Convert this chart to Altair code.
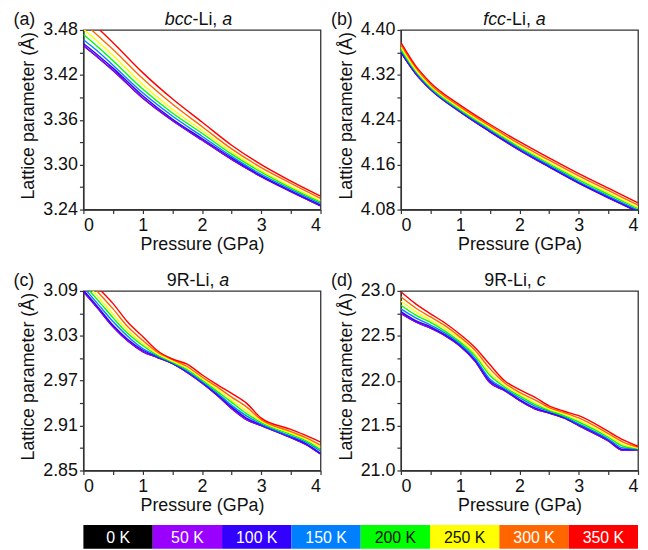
import altair as alt
import pandas as pd

FONT = "Liberation Sans"

TEMPS = ["0 K", "50 K", "100 K", "150 K", "200 K", "250 K", "300 K", "350 K"]
COLORS = ["#000000", "#9900ff", "#3300ff", "#0080ff", "#00ff00", "#ffff00", "#ff6600", "#ff0000"]
LABEL_COLORS = ["#ffffff", "#ffffff", "#ffffff", "#ffffff", "#111111", "#111111", "#ffffff", "#ffffff"]

P_AB = [0, 0.25, 0.5, 1, 1.5, 2, 2.5, 3, 3.5, 4]
P_CD = [0, 0.25, 0.5, 0.75, 1, 1.25, 1.5, 1.75, 2, 2.25, 2.5, 2.75, 3, 3.5, 3.75, 4]

BCC_A = {
    "0 K":   [3.459, 3.443, 3.426, 3.389, 3.359, 3.333, 3.307, 3.284, 3.264, 3.245],
    "50 K":  [3.459, 3.443, 3.426, 3.389, 3.359, 3.333, 3.307, 3.284, 3.264, 3.245],
    "100 K": [3.462, 3.446, 3.429, 3.392, 3.361, 3.335, 3.309, 3.285, 3.265, 3.246],
    "150 K": [3.467, 3.451, 3.433, 3.396, 3.365, 3.338, 3.311, 3.287, 3.267, 3.248],
    "200 K": [3.474, 3.457, 3.439, 3.401, 3.369, 3.342, 3.314, 3.290, 3.269, 3.250],
    "250 K": [3.481, 3.464, 3.446, 3.407, 3.374, 3.346, 3.317, 3.292, 3.271, 3.252],
    "300 K": [3.490, 3.472, 3.454, 3.415, 3.381, 3.351, 3.321, 3.296, 3.275, 3.255],
    "350 K": [3.500, 3.482, 3.463, 3.423, 3.388, 3.357, 3.326, 3.300, 3.278, 3.258],
}

FCC_A = {
    "0 K":   [4.360, 4.322, 4.294, 4.254, 4.219, 4.186, 4.156, 4.127, 4.101, 4.076],
    "50 K":  [4.360, 4.322, 4.294, 4.254, 4.219, 4.186, 4.156, 4.127, 4.101, 4.076],
    "100 K": [4.361, 4.323, 4.295, 4.255, 4.220, 4.187, 4.157, 4.128, 4.102, 4.077],
    "150 K": [4.364, 4.325, 4.296, 4.256, 4.222, 4.189, 4.159, 4.130, 4.104, 4.079],
    "200 K": [4.366, 4.327, 4.298, 4.258, 4.224, 4.191, 4.162, 4.133, 4.107, 4.082],
    "250 K": [4.370, 4.329, 4.300, 4.260, 4.226, 4.194, 4.164, 4.136, 4.110, 4.084],
    "300 K": [4.374, 4.333, 4.303, 4.263, 4.229, 4.197, 4.168, 4.140, 4.114, 4.088],
    "350 K": [4.378, 4.336, 4.306, 4.266, 4.232, 4.201, 4.172, 4.144, 4.118, 4.092],
}

R9_A = {
    "0 K":   [3.089, 3.066, 3.042, 3.023, 3.009, 3.001, 2.993, 2.981, 2.967, 2.951, 2.933, 2.918, 2.910, 2.894, 2.885, 2.872],
    "50 K":  [3.089, 3.066, 3.042, 3.023, 3.009, 3.001, 2.993, 2.981, 2.967, 2.951, 2.933, 2.918, 2.910, 2.894, 2.885, 2.872],
    "100 K": [3.091, 3.068, 3.044, 3.025, 3.011, 3.002, 2.993, 2.982, 2.968, 2.952, 2.935, 2.920, 2.911, 2.895, 2.886, 2.873],
    "150 K": [3.095, 3.072, 3.049, 3.029, 3.013, 3.003, 2.994, 2.983, 2.969, 2.954, 2.937, 2.923, 2.912, 2.896, 2.888, 2.876],
    "200 K": [3.099, 3.077, 3.054, 3.033, 3.017, 3.004, 2.995, 2.985, 2.971, 2.956, 2.941, 2.926, 2.914, 2.898, 2.890, 2.878],
    "250 K": [3.104, 3.082, 3.059, 3.037, 3.020, 3.006, 2.996, 2.987, 2.973, 2.959, 2.944, 2.930, 2.916, 2.900, 2.892, 2.881],
    "300 K": [3.109, 3.088, 3.066, 3.042, 3.024, 3.008, 2.998, 2.989, 2.975, 2.962, 2.948, 2.935, 2.918, 2.902, 2.894, 2.884],
    "350 K": [3.115, 3.094, 3.073, 3.048, 3.029, 3.010, 2.999, 2.992, 2.978, 2.965, 2.953, 2.940, 2.920, 2.905, 2.897, 2.888],
}

R9_C = {
    "0 K":   [22.75, 22.655, 22.585, 22.50, 22.385, 22.22, 21.98, 21.89, 21.78, 21.69, 21.64, 21.585, 21.50, 21.33, 21.225, 21.23],
    "50 K":  [22.75, 22.655, 22.585, 22.50, 22.385, 22.22, 21.98, 21.89, 21.78, 21.69, 21.64, 21.585, 21.50, 21.33, 21.225, 21.23],
    "100 K": [22.77, 22.67, 22.60, 22.51, 22.395, 22.23, 22.00, 21.90, 21.79, 21.70, 21.645, 21.59, 21.51, 21.34, 21.235, 21.235],
    "150 K": [22.80, 22.70, 22.62, 22.53, 22.41, 22.25, 22.02, 21.91, 21.81, 21.72, 21.66, 21.60, 21.52, 21.35, 21.25, 21.24],
    "200 K": [22.84, 22.73, 22.65, 22.55, 22.43, 22.28, 22.06, 21.93, 21.83, 21.74, 21.67, 21.61, 21.54, 21.37, 21.27, 21.245],
    "250 K": [22.885, 22.77, 22.675, 22.58, 22.46, 22.30, 22.09, 21.95, 21.85, 21.76, 21.685, 21.63, 21.56, 21.39, 21.29, 21.25],
    "300 K": [22.935, 22.81, 22.71, 22.61, 22.485, 22.34, 22.135, 21.975, 21.87, 21.79, 21.70, 21.645, 21.585, 21.41, 21.315, 21.26],
    "350 K": [22.99, 22.855, 22.745, 22.64, 22.515, 22.37, 22.18, 22.00, 21.90, 21.82, 21.72, 21.66, 21.61, 21.435, 21.34, 21.27],
}

X_TICKS = [0, 0.5, 1, 1.5, 2, 2.5, 3, 3.5, 4]
Y_TICKS_A = [3.24, 3.27, 3.30, 3.33, 3.36, 3.39, 3.42, 3.45, 3.48]
Y_TICKS_B = [4.08, 4.12, 4.16, 4.20, 4.24, 4.28, 4.32, 4.36, 4.40]
Y_TICKS_C = [2.85, 2.88, 2.91, 2.94, 2.97, 3.00, 3.03, 3.06, 3.09]
Y_TICKS_D = [21.0, 21.25, 21.5, 21.75, 22.0, 22.25, 22.5, 22.75, 23.0]

W, H = 239, 181
GAP = 81


def long_df(P, series):
    rows = []
    for t in TEMPS:
        for p, v in zip(P, series[t]):
            rows.append({"P": p, "val": v, "T": t})
    return pd.DataFrame(rows)


def text_layer(s, x, italic=False):
    return alt.Chart(pd.DataFrame({"s": [s]})).mark_text(
        align="left", baseline="alphabetic", font=FONT, fontSize=18,
        fontStyle="italic" if italic else "normal", color="#111111"
    ).encode(text="s:N", x=alt.value(x), y=alt.value(-5))


def panel(P, series, yticks, base, step, fmt, tag, parts):
    df = long_df(P, series)
    label_expr = f"(round(datum.value*100) - {base}) % {step} == 0 ? format(datum.value, '{fmt}') : ''"
    lines = alt.Chart(df).mark_line(clip=True, strokeWidth=1.4, interpolate="monotone").encode(
        x=alt.X("P:Q", scale=alt.Scale(domain=[0, 4], nice=False),
                axis=alt.Axis(values=X_TICKS, title="Pressure (GPa)",
                              labelExpr="datum.value % 1 == 0 ? format(datum.value, 'd') : ''",
                              titleY=40, titleBaseline="alphabetic")),
        y=alt.Y("val:Q", scale=alt.Scale(domain=[yticks[0], yticks[-1]], nice=False, zero=False),
                axis=alt.Axis(values=yticks, title="Lattice parameter (Å)", labelExpr=label_expr,
                              titleX=-50, titleY=86, titleAngle=270, titleBaseline="alphabetic",
                              titleAlign="center")),
        color=alt.Color("T:N", scale=alt.Scale(domain=TEMPS, range=COLORS), legend=None),
    )
    layers = [lines, text_layer(tag, -70.5)]
    for s, x, it in parts:
        layers.append(text_layer(s, x, it))
    return alt.layer(*layers).properties(width=W, height=H)


pa = panel(P_AB, BCC_A, Y_TICKS_A, 324, 6, ".2f", "(a)",
           [("bcc", 82, True), ("-Li, ", 110, False), ("a", 140, True)])
pb = panel(P_AB, FCC_A, Y_TICKS_B, 408, 8, ".2f", "(b)",
           [("fcc", 83, True), ("-Li, ", 106, False), ("a", 136, True)])
pc = panel(P_CD, R9_A, Y_TICKS_C, 285, 6, ".2f", "(c)",
           [("9R-Li, ", 84, False), ("a", 137, True)])
pd_ = panel(P_CD, R9_C, Y_TICKS_D, 2100, 50, ".1f", "(d)",
            [("9R-Li, ", 84, False), ("c", 137, True)])

leg_df = pd.DataFrame({"T": TEMPS, "c": COLORS, "tc": LABEL_COLORS})
leg_base = alt.Chart(leg_df).encode(
    x=alt.X("T:N", sort=TEMPS, axis=None, scale=alt.Scale(paddingInner=0, paddingOuter=0))
)
boxes = leg_base.mark_rect().encode(color=alt.Color("c:N", scale=None))
labels = leg_base.mark_text(font=FONT, fontSize=16, baseline="middle", dy=1).encode(
    text="T:N", color=alt.Color("tc:N", scale=None), y=alt.value(12)
)
legend = alt.layer(boxes, labels).resolve_scale(color="independent").properties(
    width=2 * W + GAP, height=24, view=alt.ViewBackground(strokeOpacity=0)
)

row1 = alt.hconcat(pa, pb, spacing=GAP, bounds="flush")
row2 = alt.hconcat(pc, pd_, spacing=GAP, bounds="flush")
grid = alt.vconcat(row1, row2, spacing=17)

chart = alt.vconcat(grid, legend, spacing=10).resolve_scale(
    color="independent"
).properties(
    padding={"left": 4, "top": 0, "right": 0, "bottom": 0}
).configure_axis(
    labelFont=FONT, labelFontSize=18, labelColor="#111111",
    titleFont=FONT, titleFontSize=18, titleFontWeight="normal", titleColor="#111111",
    tickSize=4, tickColor="#333333", domainColor="#333333", domainWidth=1.3, tickWidth=1.2,
    grid=False
).configure_axisX(labelPadding=3).configure_axisY(labelPadding=2).configure_view(
    stroke="#333333", strokeWidth=1.3
)

chart.save("out.html", embed_options={"renderer": "svg", "actions": False})
